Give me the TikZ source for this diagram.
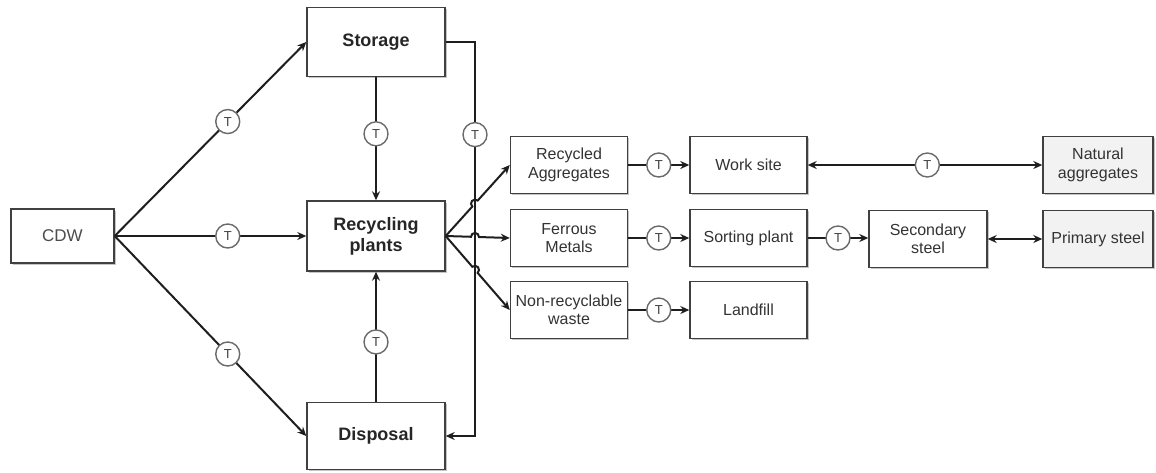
\documentclass[tikz,border=0pt]{standalone}
\usepackage{fontspec}
\setmainfont{Liberation Sans}
\usetikzlibrary{arrows.meta,shadows,calc}
\definecolor{boxc}{HTML}{404040}
\definecolor{linec}{HTML}{1E1E1E}
\definecolor{tcol}{HTML}{6A6A6A}
\definecolor{txtc}{HTML}{333333}
\definecolor{grayfill}{HTML}{F2F2F2}
\begin{document}
\begin{tikzpicture}[x=1pt,y=1pt,
  box/.style={draw=boxc, line width=1.4pt, fill=white, align=center, inner sep=0pt,
    text=txtc, font=\fontsize{16}{18.5}\selectfont,
    drop shadow={shadow xshift=1.6pt, shadow yshift=-1.6pt, fill=black!45, opacity=0.5}},
  bigbox/.style={box, minimum width=138pt, minimum height=68pt, text=black!85,
    font=\bfseries\fontsize{18}{21}\selectfont},
  smallbox/.style={box, minimum width=117pt, minimum height=57pt},
  greybox/.style={smallbox, fill=grayfill, minimum width=110pt},
  conn/.style={draw=linec, line width=2pt, arrows={-Stealth[length=9pt,width=8pt]}},
  conn2/.style={draw=linec, line width=2pt, arrows={Stealth[length=9pt,width=8pt]-Stealth[length=9pt,width=8pt]}},
  tc/.style={circle, draw=tcol, line width=1.4pt, fill=white, minimum size=24pt,
    inner sep=0pt, text=black!75, font=\fontsize{13}{13}\selectfont}
]
\useasboundingbox (0,0) rectangle (1156,-472);

% nodes
\node[box, minimum width=103pt, minimum height=54pt, font=\fontsize{17}{20}\selectfont, text=black!70] (cdw) at (62.5,-236) {CDW};
\node[bigbox, minimum height=69pt] (st) at (376,-42) {Storage};
\node[bigbox, minimum height=70pt] (rp) at (376,-236) {Recycling\\plants};
\node[bigbox, minimum height=67pt] (dp) at (376,-436) {Disposal};

\node[smallbox] (ra) at (569,-165) {Recycled\\Aggregates};
\node[smallbox] (fm) at (569,-238) {Ferrous\\Metals};
\node[smallbox] (nr) at (569,-310) {Non-recyclable\\waste};
\node[smallbox] (ws) at (748.5,-165) {Work site};
\node[smallbox] (sp) at (748.5,-238) {Sorting plant};
\node[smallbox] (lf) at (748.5,-310) {Landfill};
\node[smallbox, minimum width=118pt] (ss) at (928,-239) {Secondary\\steel};
\node[greybox] (na) at (1098,-165) {Natural\\aggregates};
\node[greybox] (ps) at (1098,-239) {Primary steel};

% CDW fan
\draw[conn] (cdw.east) -- node[tc,pos=0.59] (t1) {T} (st.west);
\draw[conn] (cdw.east) -- node[tc,pos=0.59] (t2) {T} (rp.west);
\draw[conn] (cdw.east) -- node[tc,pos=0.59] (t3) {T} (dp.west);

% vertical links
\draw[conn] (st.south) -- node[tc,pos=0.46] (t4) {T} (rp.north);
\draw[conn] (dp.north) -- node[tc,pos=0.46] (t6) {T} (rp.south);

% loop storage -> disposal
\coordinate (l1) at (475,-42);
\coordinate (l2) at (475,-436);
\draw[conn] (st.east) -- (l1) -- node[tc,pos=0.235] (t5) {T} (l2) -- (dp.east);

% fan from recycling plants with hops
\path (intersection of rp.east--ra.west and l1--l2) coordinate (x1);
\path (intersection of rp.east--fm.west and l1--l2) coordinate (x2);
\path (intersection of rp.east--nr.west and l1--l2) coordinate (x3);
\draw[conn] let \p1=($(ra.west)-(rp.east)$), \n1={atan2(\y1,\x1)} in
  (rp.east) -- ($(x1)!4pt!(rp.east)$) arc[start angle=\n1+180, end angle=\n1, radius=4pt] -- (ra.west);
\draw[conn] let \p1=($(fm.west)-(rp.east)$), \n1={atan2(\y1,\x1)} in
  (rp.east) -- ($(x2)!4pt!(rp.east)$) arc[start angle=\n1+180, end angle=\n1, radius=4pt] -- (fm.west);
\draw[conn] let \p1=($(nr.west)-(rp.east)$), \n1={atan2(\y1,\x1)} in
  (rp.east) -- ($(x3)!4pt!(rp.east)$) arc[start angle=\n1+180, end angle=\n1, radius=4pt] -- (nr.west);

% right side
\draw[conn] (ra.east) -- node[tc] (t7) {T} (ws.west);
\draw[conn] (fm.east) -- node[tc] (t8) {T} (sp.west);
\draw[conn] (nr.east) -- node[tc] (t9) {T} (lf.west);
\draw[conn] (sp.east) -- node[tc] (t10) {T} (sp.east -| ss.west);
\draw[conn2] (ws.east) -- node[tc,pos=0.51] (t11) {T} (na.west);
\draw[conn2] (ss.east) -- (ps.west);
\end{tikzpicture}
\end{document}
